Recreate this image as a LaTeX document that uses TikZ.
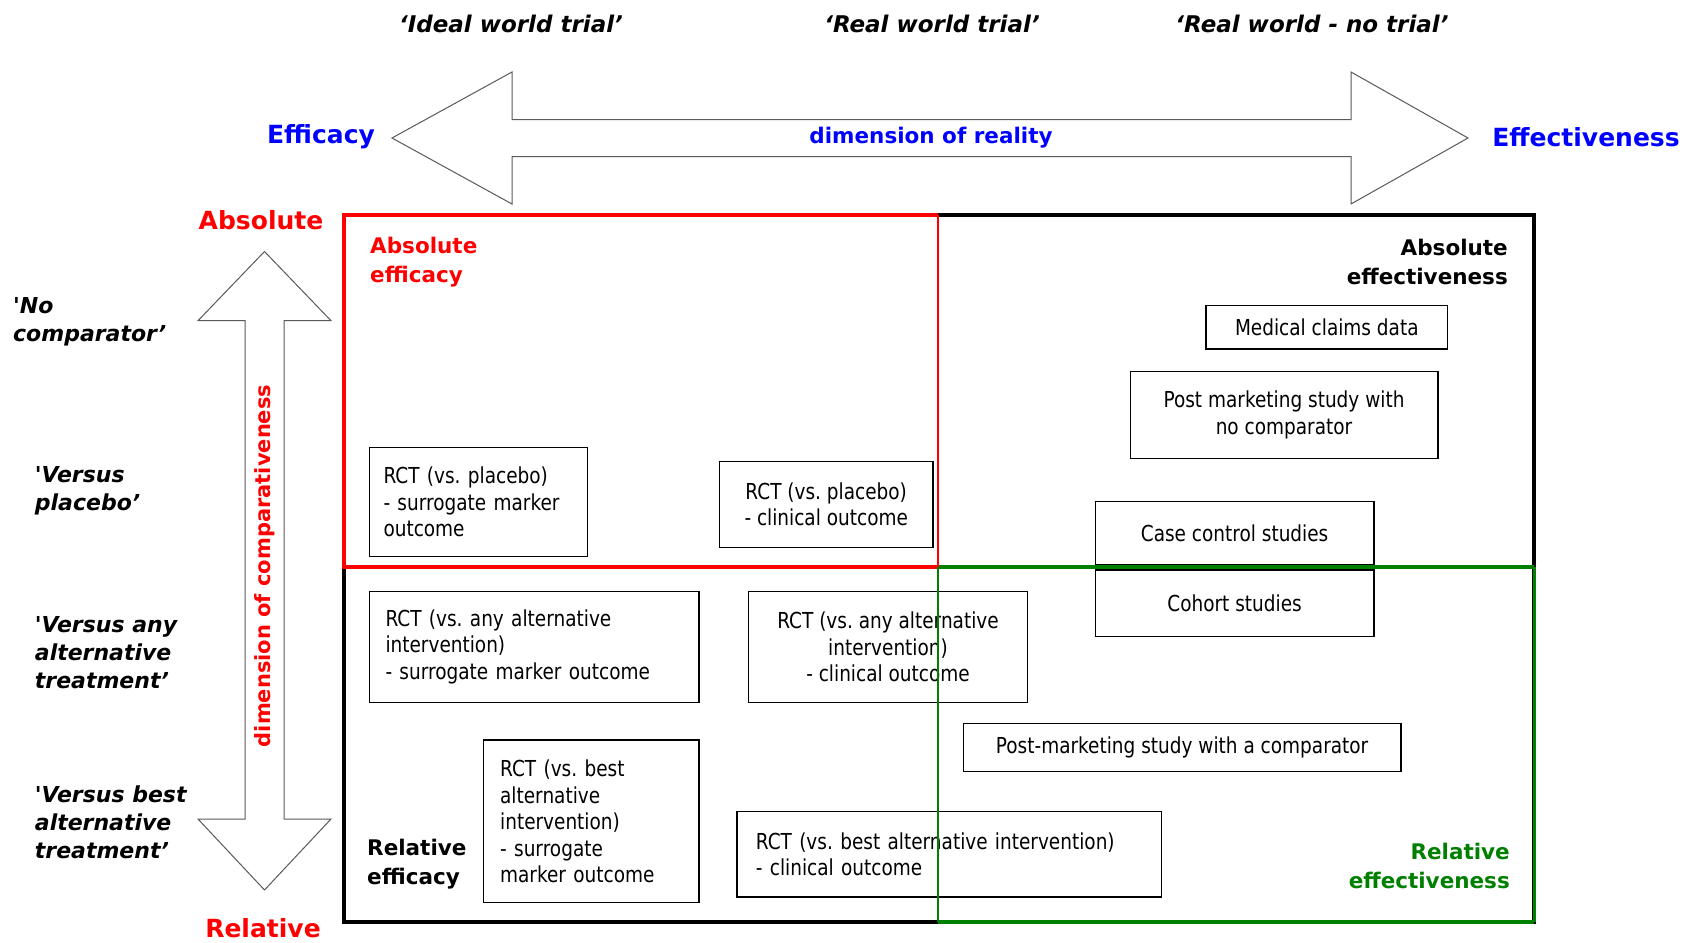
\documentclass[tikz,border=0pt]{standalone}
\usepackage{fontspec}
\setmainfont{DejaVu Sans}
\newfontfamily\boxfont[FakeStretch=0.84]{DejaVu Sans}
\usetikzlibrary{positioning}
\definecolor{qgreen}{RGB}{0,128,0}
\frenchspacing
\tikzset{
  box/.style={draw, line width=1.3pt, font=\boxfont\fontsize{22}{26.5}\selectfont, inner xsep=15pt, inner ysep=3pt, align=center},
  lbox/.style={box, align=left},
  hdr/.style={font=\bfseries\fontsize{25}{30}\selectfont},
  quad/.style={font=\bfseries\fontsize{21.5}{29}\selectfont, inner sep=0pt},
  trial/.style={font=\bfseries\itshape\fontsize{23}{28}\selectfont},
  cmp/.style={font=\bfseries\itshape\fontsize{22}{28}\selectfont, align=left, anchor=west, inner sep=0pt},
  blockarr/.style={draw=black!65, line width=1pt},
  frame/.style={line width=4pt},
}

\begin{document}
\begin{tikzpicture}[x=1pt, y=-1pt, node distance=4pt]
    \useasboundingbox (0,0) rectangle (1699,942);
    % horizontal block arrow
    \draw[blockarr] (392,138) -- (512,72) -- (512,119.5) -- (1351,119.5) -- (1351,72) -- (1468,138)
      -- (1351,204) -- (1351,156.5) -- (512,156.5) -- (512,204) -- cycle;
    % vertical block arrow
    \draw[blockarr] (264.5,251.5) -- (331,320.7) -- (284,320.7) -- (284,819) -- (331,819) -- (264.5,890)
      -- (198,819) -- (245,819) -- (245,320.7) -- (198,320.7) -- cycle;

    \node[trial] (ideal) at (511,24) {`Ideal world trial'};
    \node[trial] (real) at (932,24) {`Real world trial'};
    \node[trial] (notrial) at (1312,24) {`Real world - no trial'};

    \node[hdr, text=blue] (efficacy) at (321,137) {Efficacy};
    \node[hdr, text=blue] (effectiveness) at (1586,137) {Effectiveness};
    \node[font=\bfseries\fontsize{21.5}{26}\selectfont, text=blue] (reality) at (931,138) {dimension of reality};

    \node[hdr, text=red] (absolute) at (261,220) {Absolute};
    \node[hdr, text=red] (relative) at (263,928) {Relative};
    \node[font=\bfseries\fontsize{21}{26}\selectfont, text=red, rotate=90] (comparativeness) at (264.5,566) {dimension of comparativeness};

    \node[cmp] (nocomp) at (13,322) {\textquotesingle No\\comparator'};
    \node[cmp] (placebo) at (34.7,491) {\textquotesingle Versus\\placebo'};
    \node[cmp] (anyalt) at (34.7,653) {\textquotesingle Versus any\\alternative\\treatment'};
    \node[cmp] (bestalt) at (34.7,822) {\textquotesingle Versus best\\alternative\\treatment'};

    % quadrant frames
    \draw[frame] (343.5,214.5) rectangle (1534.2,922.1);
    \draw[frame, red] (938.3,214.5) -- (343.5,214.5) -- (343.5,566.7) -- (938.3,566.7);
    \draw[frame, qgreen] (938.3,566.7) -- (1534.2,566.7);
    \draw[frame, qgreen, line width=3pt] (1534.2,566.7) -- (1534.2,922.1);
    \draw[frame, qgreen] (1534.2,922.1) -- (938.3,922.1);

    \node[quad, text=red, align=left, anchor=west] (abseff) at (370,262) {Absolute\\efficacy};
    \node[quad, align=right, anchor=east] (absefv) at (1508,262) {Absolute\\effectiveness};
    \node[quad, align=left, anchor=west] (releff) at (367,864) {Relative\\efficacy};
    \node[quad, text=qgreen, align=right, anchor=east] (relefv) at (1510,866) {Relative\\effectiveness};

    \node[lbox, inner xsep=14pt, text width=189.8, minimum height=109] (plsurr) at (478.4,502.2) {RCT (vs. placebo)\\- surrogate marker\\outcome};
    \node[box, minimum width=213.5, minimum height=85.6] (plclin) at (826.2,504.4) {RCT (vs. placebo)\\- clinical outcome};
    \node[box, minimum width=241.6, minimum height=43.4] (claims) at (1326.8,327.2) {Medical claims data};
    \node[box, minimum width=307.7, minimum height=86.7] (pmsnone) at (1284,415) {Post marketing study with\\no comparator};
    \node[box, minimum width=278.5, minimum height=62.8] (casectl) at (1234.6,533.1) {Case control studies};
    \node[box, minimum width=278.5, minimum height=66.1, below=4.3pt of casectl] (cohort) {Cohort studies};
    \node[lbox, inner xsep=16pt, text width=297.4, minimum height=110.5] (anysurr) at (534.2,646.9) {RCT (vs. any alternative\\intervention)\\- surrogate marker outcome};
    \node[box, minimum width=278.5, minimum height=110.5] (anyclin) at (888,646.9) {RCT (vs. any alternative\\intervention)\\- clinical outcome};
    \node[box, minimum width=437.8, minimum height=47.7] (pmscomp) at (1182.1,747.6) {Post-marketing study with a comparator};
    \node[lbox, inner xsep=17pt, text width=181.7, minimum height=162.6] (bestsurr) at (591,821.3) {RCT (vs. best\\alternative\\intervention)\\- surrogate\\marker outcome};
    \node[lbox, inner xsep=19pt, text width=386.7, minimum height=85.6] (bestclin) at (949.2,854.3) {RCT (vs. best alternative intervention)\\- clinical outcome};

    % middle dividers
    \draw[red, line width=2pt] (938.3,214.5) -- (938.3,566.7);
    \draw[qgreen, line width=2pt] (938.3,566.7) -- (938.3,922.1);
  \end{tikzpicture}
\end{document}
